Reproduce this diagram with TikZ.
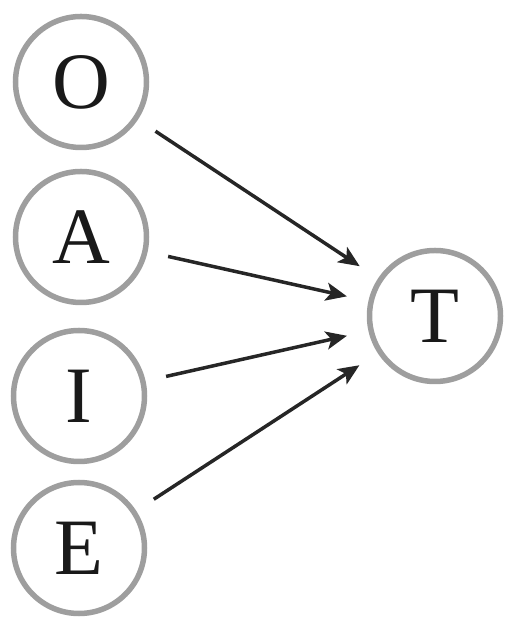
\documentclass[tikz,border=0pt]{standalone}
\usepackage{fontspec}
\setmainfont{Liberation Serif}
\usetikzlibrary{arrows.meta}
\begin{document}
\begin{tikzpicture}[x=1pt, y=1pt,
        letter/.style={circle, draw=black!38, line width=5.5pt, minimum size=131pt, inner sep=0pt,
            font=\fontsize{80}{96}\selectfont, text=black!90},
        link/.style={draw=black!85, line width=3.5pt, shorten <=21pt, shorten >=22pt,
            -{Stealth[length=21pt, width=18pt, inset=5pt]}}]
        \useasboundingbox (0,0) rectangle (507,617);

        \node[letter] (o) at (81,535) {O};
        \node[letter] (a) at (81,380) {A};
        \node[letter] (i) at (79,221) {I};
        \node[letter] (e) at (79,69) {E};
        \node[letter] (t) at (435,301) {T};

        \draw[link] (o) -- (t);
        \draw[link] (a) -- (t);
        \draw[link] (i) -- (t);
        \draw[link] (e) -- (t);
    \end{tikzpicture}
\end{document}
